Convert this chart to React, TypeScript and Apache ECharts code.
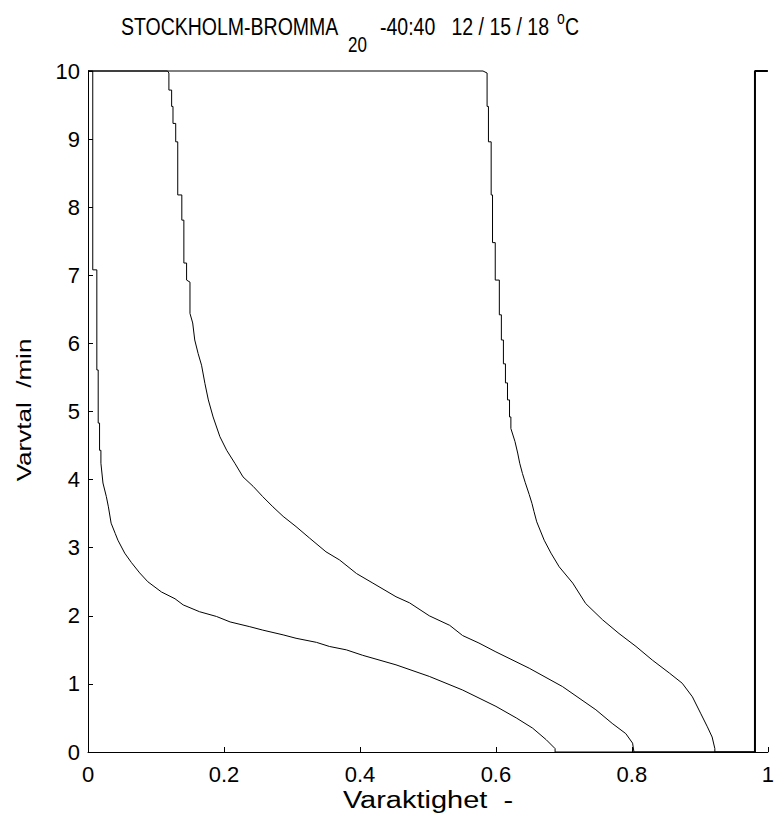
import React, { useEffect, useRef } from "react";
import * as echarts from "echarts";

// Duration curves (x = Varaktighet, y = Varvtal /min)
const curve12: number[][] = [
  [0, 10], [0.007, 10], [0.007, 7.08], [0.013, 7.08], [0.013, 5.61], [0.015, 5.61],
  [0.015, 4.83], [0.017, 4.83], [0.017, 4.43], [0.019, 4.43], [0.019, 4.24], [0.022, 3.95],
  [0.027, 3.75], [0.03, 3.6], [0.034, 3.36], [0.04, 3.21], [0.044, 3.11], [0.054, 2.92],
  [0.064, 2.78], [0.076, 2.63], [0.088, 2.5], [0.108, 2.35], [0.128, 2.25], [0.14, 2.16],
  [0.164, 2.06], [0.189, 1.99], [0.209, 1.91], [0.238, 1.84], [0.257, 1.79], [0.287, 1.72],
  [0.306, 1.67], [0.336, 1.61], [0.355, 1.55], [0.38, 1.5], [0.404, 1.42], [0.453, 1.28],
  [0.502, 1.11], [0.551, 0.91], [0.6, 0.67], [0.63, 0.5], [0.654, 0.35], [0.674, 0.18],
  [0.687, 0.05], [0.687, 0], [0.981, 0],
];

const curve15: number[][] = [
  [0, 10], [0.117, 10], [0.119, 9.97], [0.119, 9.72], [0.123, 9.72], [0.123, 9.48],
  [0.125, 9.48], [0.125, 9.23], [0.129, 9.23], [0.129, 8.96], [0.132, 8.96], [0.132, 8.18],
  [0.138, 8.18], [0.138, 7.81], [0.141, 7.81], [0.141, 7.18], [0.145, 7.18], [0.145, 6.93],
  [0.15, 6.9], [0.15, 6.44], [0.154, 6.3], [0.157, 6.05], [0.162, 5.85], [0.167, 5.68],
  [0.172, 5.41], [0.177, 5.17], [0.184, 4.92], [0.194, 4.63], [0.204, 4.43], [0.216, 4.24],
  [0.228, 4.04], [0.243, 3.9], [0.257, 3.75], [0.272, 3.6], [0.287, 3.46], [0.306, 3.31],
  [0.326, 3.14], [0.35, 2.94], [0.37, 2.82], [0.395, 2.62], [0.419, 2.48], [0.453, 2.28],
  [0.473, 2.19], [0.502, 2.0], [0.532, 1.86], [0.551, 1.71], [0.575, 1.6], [0.6, 1.47],
  [0.649, 1.23], [0.698, 0.96], [0.747, 0.62], [0.771, 0.42], [0.791, 0.27], [0.801, 0.13],
  [0.803, 0], [0.981, 0],
];

const curve18: number[][] = [
  [0, 10], [0.581, 10], [0.587, 9.97], [0.587, 9.48], [0.589, 9.48], [0.589, 8.96],
  [0.593, 8.96], [0.593, 8.18], [0.595, 8.18], [0.595, 7.48], [0.599, 7.48], [0.599, 6.93],
  [0.605, 6.93], [0.605, 6.42], [0.608, 6.42], [0.608, 6.05], [0.611, 6.05], [0.611, 5.7],
  [0.614, 5.7], [0.614, 5.42], [0.617, 5.42], [0.617, 5.17], [0.62, 5.17], [0.62, 4.92],
  [0.622, 4.92], [0.622, 4.75], [0.628, 4.56], [0.632, 4.39], [0.635, 4.24], [0.639, 4.09],
  [0.643, 3.96], [0.649, 3.78], [0.653, 3.65], [0.656, 3.53], [0.66, 3.38], [0.671, 3.11],
  [0.681, 2.92], [0.693, 2.72], [0.713, 2.48], [0.732, 2.18], [0.757, 1.94], [0.781, 1.74],
  [0.806, 1.55], [0.83, 1.35], [0.855, 1.16], [0.874, 1.01], [0.889, 0.81], [0.901, 0.57],
  [0.911, 0.37], [0.918, 0.22], [0.922, 0.05], [0.922, 0], [0.981, 0],
];

const totalLine: number[][] = [[0.981, 0], [0.981, 10], [1, 10]];

const titleMain = "STOCKHOLM-BROMMA";
const titleSub = "20";
const titleRest = "-40:40   12 / 15 / 18";
const titleSup = "o";
const titleUnit = "C";
const xName = "Varaktighet  -";
const yName = "Varvtal  /min";

const FONT = "'Liberation Sans', Arial, Helvetica, sans-serif";

export default function App() {
  const ref = useRef<HTMLDivElement>(null);
  useEffect(() => {
    if (!ref.current) return;
    document.body.style.margin = "0";
    const chart = echarts.init(ref.current, undefined, { renderer: "svg" });
    const lineSeries = (name: string, data: number[][], width: number) => ({
      name,
      type: "line",
      data,
      showSymbol: false,
      symbol: "none",
      clip: false,
      lineStyle: { color: "#000", width },
      emphasis: { disabled: true },
    });
    const txt = (text: string, x: number, y: number, size: number, align = "left", extra: any = {}) => ({
      type: "text",
      x,
      y,
      scaleY: 1.25,
      ...extra,
      style: {
        text,
        fontSize: size,
        fontFamily: FONT,
        fill: "#000",
        align,
        verticalAlign: "middle",
      },
    });
    chart.setOption({
      animation: false,
      backgroundColor: "#fff",
      grid: { left: 88, right: 8, top: 71, bottom: 69, containLabel: false },
      xAxis: {
        type: "value",
        min: 0,
        max: 1,
        interval: 0.2,
        splitLine: { show: false },
        axisLine: { show: true, lineStyle: { color: "#000", width: 1 } },
        axisTick: { show: true, inside: true, length: 5, lineStyle: { color: "#000" } },
        axisLabel: { fontSize: 22, fontFamily: FONT, color: "#000", margin: 11 },
      },
      yAxis: {
        type: "value",
        min: 0,
        max: 10,
        interval: 1,
        splitLine: { show: false },
        axisLine: { show: true, lineStyle: { color: "#000", width: 1 } },
        axisTick: { show: true, inside: true, length: 5, lineStyle: { color: "#000" } },
        axisLabel: { fontSize: 22, fontFamily: FONT, color: "#000", margin: 8 },
      },
      graphic: [
        txt(titleMain, 121, 27, 19.5),
        txt(titleSub, 348, 45, 17),
        txt(titleRest, 380, 27, 19.5),
        txt(titleSup, 557, 18, 14),
        txt(titleUnit, 565, 27, 19.5),
        txt(xName, 428, 800, 21, "center", { scaleX: 1.38, scaleY: 1.1 }),
        {
          type: "text",
          x: 24,
          y: 410,
          rotation: Math.PI / 2,
          scaleX: 1.27,
          style: {
            text: yName,
            fontSize: 20.5,
            fontFamily: FONT,
            fill: "#000",
            align: "center",
            verticalAlign: "middle",
          },
        },
      ],
      series: [
        lineSeries("12", curve12, 1),
        lineSeries("15", curve15, 1),
        lineSeries("18", curve18, 1),
        lineSeries("total", totalLine, 2),
      ],
    });
    return () => chart.dispose();
  }, []);
  return (
    <div
      ref={ref}
      style={{ position: "fixed", left: 0, top: 0, width: 777, height: 821 }}
    />
  );
}
